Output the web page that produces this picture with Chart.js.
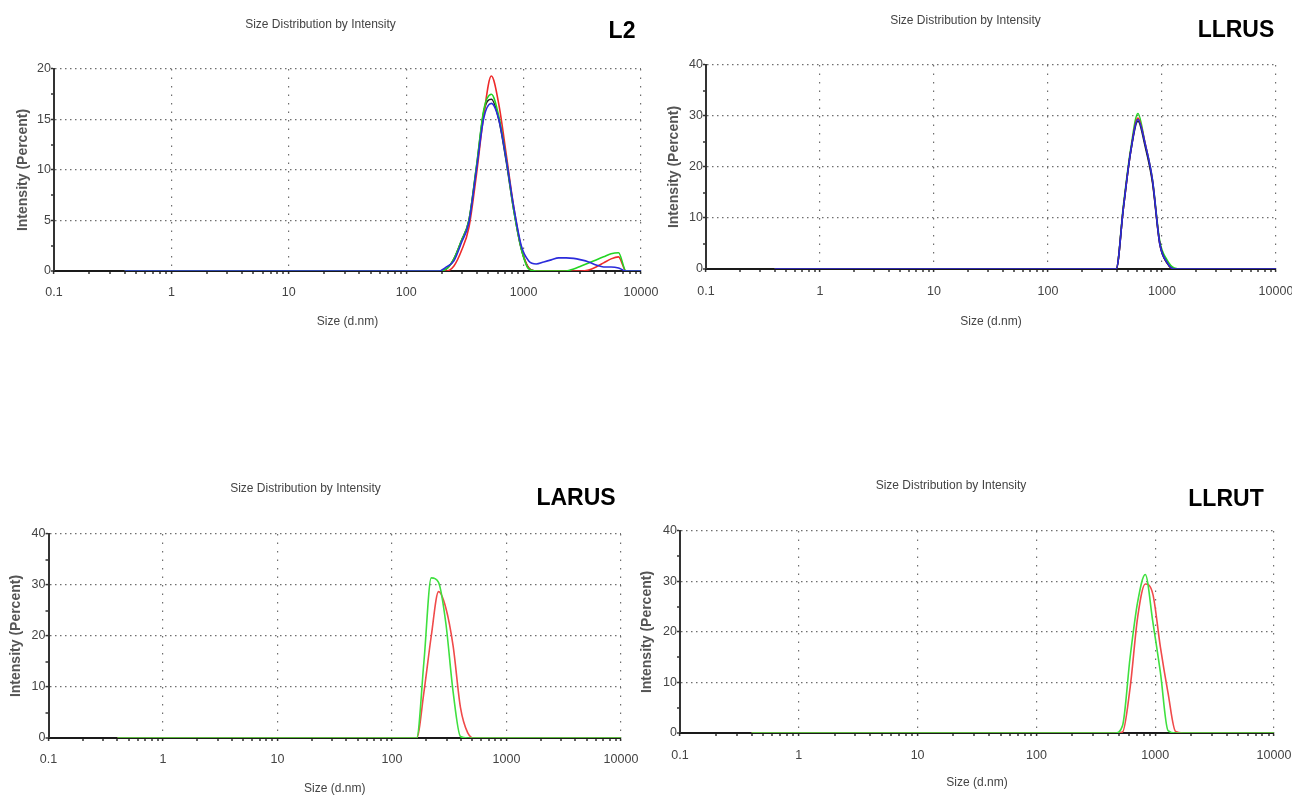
<!DOCTYPE html>
<html>
<head>
<meta charset="utf-8">
<script src="https://cdn.jsdelivr.net/npm/chart.js@4.4.1/dist/chart.umd.min.js"></script>
<style>
html,body{margin:0;padding:0;background:#fff;width:1292px;height:796px;overflow:hidden;}
body{position:relative;}
canvas{position:absolute;}
.lbl{position:absolute;font:bold 23px "Liberation Sans",Arial,sans-serif;color:#000;transform:translate(-50%,-50%);white-space:nowrap;}
</style>
</head>
<body>
<canvas id="c1"></canvas>
<canvas id="c2"></canvas>
<canvas id="c3"></canvas>
<canvas id="c4"></canvas>
<div class="lbl" style="left:622px;top:30px">L2</div>
<div class="lbl" style="left:1236px;top:29px">LLRUS</div>
<div class="lbl" style="left:576px;top:497px">LARUS</div>
<div class="lbl" style="left:1226px;top:498px">LLRUT</div>
<script>
// ---------- DATA ----------
const xDecades = [0.1, 1, 10, 100, 1000, 10000];
const xDecadeLabels = ['0.1', '1', '10', '100', '1000', '10000'];
const yTicks20 = [0, 2.5, 5, 7.5, 10, 12.5, 15, 17.5, 20];
const yTicks40 = [0, 5, 10, 15, 20, 25, 30, 35, 40];

// L2
const l2Sizes = [0.4, 164.2, 190.1, 220.2, 255.0, 295.3, 342.0, 396.1, 458.7, 531.2, 615.1, 712.4, 825.0, 955.4, 1106, 1281, 1484, 1718, 1990, 2305, 2669, 3091, 3580, 4145, 4801, 5560, 6439, 7456, 8635, 10000];
const l2Blue  = [0, 0, 0, 0.4, 1.0, 2.8, 4.8, 10.0, 15.2, 16.6, 15.0, 11.0, 6.3, 2.5, 1.0, 0.7, 0.9, 1.1, 1.3, 1.3, 1.25, 1.1, 0.9, 0.6, 0.4, 0.4, 0.3, 0, 0, 0];
const l2Green = [0, 0, 0, 0.2, 1.2, 3.0, 5.0, 10.3, 16.0, 17.5, 15.3, 11.0, 6.0, 2.2, 0.2, 0, 0, 0, 0, 0, 0.2, 0.5, 0.8, 1.1, 1.4, 1.7, 1.8, 0, 0, 0];
const l2Red   = [0, 0, 0, 0, 0.5, 2.0, 4.3, 9.5, 15.5, 19.3, 16.5, 11.5, 6.3, 2.3, 0.3, 0, 0, 0, 0, 0, 0, 0, 0.1, 0.4, 0.8, 1.2, 1.4, 0, 0, 0];
const l2Black = [0, 0, 0, 0.2, 1.2, 3.0, 5.0, 10.2, 15.8, 17.0, 15.0, 10.8, 6.0, 2.2, 0.3, 0, 0, 0, 0, 0, 0, 0, 0, 0, 0, 0, 0, 0, 0, 0];

// LLRUS
const llrusSizes = [0.4, 342.0, 396.1, 458.7, 531.2, 615.1, 712.4, 825.0, 955.4, 1106, 1281, 1484, 10000];
const llrusBlue  = [0, 0, 0, 12.0, 23.0, 29.3, 24.5, 17.5, 5.0, 1.3, 0, 0, 0];
const llrusGreen = [0, 0, 0, 12.5, 23.5, 30.5, 24.5, 17.5, 5.5, 1.8, 0.2, 0, 0];
const llrusRed   = [0, 0, 0, 12.0, 23.0, 29.6, 24.5, 17.3, 5.0, 1.2, 0, 0, 0];
const llrusBlack = [0, 0, 0, 12.0, 23.0, 29.0, 24.0, 17.0, 5.0, 1.2, 0, 0, 0];

// LARUS
const larusSizes = [0.4, 141.8, 164.2, 190.1, 220.2, 255.0, 295.3, 342.0, 396.1, 458.7, 531.2, 10000];
const larusGreen = [0, 0, 0, 15.0, 31.4, 30.5, 22.5, 9.0, 0.3, 0, 0, 0];
const larusRed   = [0, 0, 0, 9.0, 20.0, 28.7, 25.5, 18.0, 6.0, 1.0, 0, 0];

// LLRUT
const llrutSizes = [0.4, 458.7, 531.2, 615.1, 712.4, 825.0, 955.4, 1106, 1281, 1484, 1718, 10000];
const llrutGreen = [0, 0, 1.5, 15.0, 26.0, 31.4, 22.0, 12.0, 0.5, 0, 0, 0];
const llrutRed   = [0, 0, 0.2, 9.0, 23.0, 29.5, 27.5, 17.0, 8.0, 0.3, 0, 0];

// ---------- STYLE / LAYOUT ----------
const SANS = '"Liberation Sans",Arial,sans-serif';
const C = {blue:'#2b2bdb', green:'#22d422', red:'#ee2a2a', black:'#222222', paleGreen:'#3fe03f', paleRed:'#f04a4a'};

const xTickValues = [];
xDecades.forEach((d, i) => {
  if (i < xDecades.length - 1) { for (let m = 1; m <= 9; m++) xTickValues.push(d * m); }
  else xTickValues.push(d);
});
function isDecade(v) { const l = Math.log10(v); return Math.abs(l - Math.round(l)) < 1e-6; }
function decadeLabel(v) {
  for (let i = 0; i < xDecades.length; i++) if (Math.abs(Math.log10(v) - Math.log10(xDecades[i])) < 1e-6) return xDecadeLabels[i];
  return '';
}
function pts(sizes, vals) { return sizes.map((s, i) => ({x: s, y: vals[i]})); }

const panels = [
  {id:'c1', left:0, top:0, w:660, h:340, area:{l:54, r:641, t:69, b:271}, titleY:25, xLabY:293, xTitleY:322, yTitleX:23,
   yMax:20, yTicks:yTicks20, yMajor:5,
   sets:[[l2Blue, C.blue], [l2Green, C.green], [l2Red, C.red], [l2Black, C.black]], sizes:l2Sizes},
  {id:'c2', left:655, top:0, w:637, h:340, area:{l:706, r:1276, t:65, b:269}, titleY:20.7, xLabY:291.7, xTitleY:321.7, yTitleX:674.6,
   yMax:40, yTicks:yTicks40, yMajor:10,
   sets:[[llrusBlue, C.blue], [llrusBlack, C.black], [llrusRed, C.red], [llrusGreen, C.green]], sizes:llrusSizes},
  {id:'c3', left:-10, top:460, w:654, h:345, area:{l:48.5, r:621, t:534, b:738}, titleY:489, xLabY:760, xTitleY:789, yTitleX:16.6,
   yMax:40, yTicks:yTicks40, yMajor:10,
   sets:[[larusGreen, C.paleGreen], [larusRed, C.paleRed]], sizes:larusSizes},
  {id:'c4', left:628, top:460, w:664, h:345, area:{l:680, r:1274, t:531, b:733}, titleY:486, xLabY:756, xTitleY:783, yTitleX:647.5,
   yMax:40, yTicks:yTicks40, yMajor:10,
   sets:[[llrutGreen, C.paleGreen], [llrutRed, C.paleRed]], sizes:llrutSizes}
];

const TF = 12;            // title font size
const TICKF = 12.5;       // tick font size
const YTF = 14;           // y title font size
const TL = 3;             // tick length
const GRID = '#6e6e6e';
const NONE = 'rgba(0,0,0,0)';

panels.forEach(p => {
  const cv = document.getElementById(p.id);
  cv.width = p.w; cv.height = p.h;
  cv.style.left = p.left + 'px'; cv.style.top = p.top + 'px';
  cv.style.width = p.w + 'px'; cv.style.height = p.h + 'px';

  const yW = p.area.l - p.left;
  const xH = p.h - (p.area.b - p.top);
  const padRight = p.left + p.w - p.area.r;
  const titlePadTop = (p.titleY - p.top) - TF * 1.2 / 2;
  const titlePadBottom = (p.area.t - p.top) - titlePadTop - TF * 1.2;
  const xTickPad = (p.xLabY - p.area.b) - TL - TICKF * 1.2 / 2;
  const xTitlePadBottom = (p.top + p.h - p.xTitleY) - TF * 1.2 / 2;
  const yTitlePadTop = (p.yTitleX - p.left) - YTF * 1.2 / 2;

  new Chart(cv, {
    type: 'line',
    data: {
      datasets: p.sets.map(([vals, col]) => ({
        data: pts(p.sizes, vals), borderColor: col, backgroundColor: col,
        borderWidth: 1.6, pointRadius: 0, cubicInterpolationMode: 'monotone', fill: false
      }))
    },
    options: {
      responsive: false, animation: false, devicePixelRatio: 1,
      layout: {autoPadding: false, padding: {left: 0, top: 0, right: padRight, bottom: 0}},
      plugins: {
        legend: {display: false}, tooltip: {enabled: false},
        title: {display: true, text: 'Size Distribution by Intensity', color: '#444', fullSize: true,
          font: {family: SANS, size: TF, weight: 'normal'}, padding: {top: titlePadTop, bottom: titlePadBottom}}
      },
      scales: {
        x: {
          type: 'logarithmic', position: 'bottom', min: 0.1, max: 10000,
          afterBuildTicks: s => { s.ticks = xTickValues.map(v => ({value: v})); },
          afterFit: s => { s.height = xH; s.paddingLeft = 0; s.paddingRight = 0; },
          ticks: {autoSkip: false, maxRotation: 0, minRotation: 0, padding: xTickPad, color: '#444',
            font: {family: SANS, size: TICKF}, callback: v => decadeLabel(v)},
          grid: {
            color: c => (c.tick && isDecade(c.tick.value)) ? GRID : NONE,
            lineWidth: c => (c.tick && isDecade(c.tick.value)) ? 1.2 : 0,
            tickColor: '#333', tickLength: TL, tickWidth: 1.5, drawTicks: true
          },
          border: {display: true, color: '#1a1a1a', width: 2, dash: [1.5, 7]},
          title: {display: true, text: 'Size (d.nm)', color: '#444', font: {family: SANS, size: TF},
            padding: {top: 0, bottom: xTitlePadBottom}}
        },
        y: {
          type: 'linear', position: 'left', min: 0, max: p.yMax,
          afterBuildTicks: s => { s.ticks = p.yTicks.map(v => ({value: v})); },
          afterFit: s => { s.width = yW; s.paddingTop = 0; s.paddingBottom = 0; },
          ticks: {autoSkip: false, padding: 0, color: '#444', font: {family: SANS, size: TICKF},
            callback: v => (v % p.yMajor === 0) ? String(v) : ''},
          grid: {
            color: c => (c.tick && c.tick.value % p.yMajor === 0 && c.tick.value > 0) ? GRID : NONE,
            lineWidth: c => (c.tick && c.tick.value % p.yMajor === 0 && c.tick.value > 0) ? 1.2 : 0,
            tickColor: '#333', tickLength: TL, tickWidth: 1.5, drawTicks: true
          },
          border: {display: true, color: '#333', width: 2, dash: [1.5, 3.5]},
          title: {display: true, text: 'Intensity (Percent)', color: '#555',
            font: {family: SANS, size: YTF, weight: 'bold'}, padding: {top: yTitlePadTop, bottom: 0}}
        }
      }
    }
  });
});
</script>
</body>
</html>
